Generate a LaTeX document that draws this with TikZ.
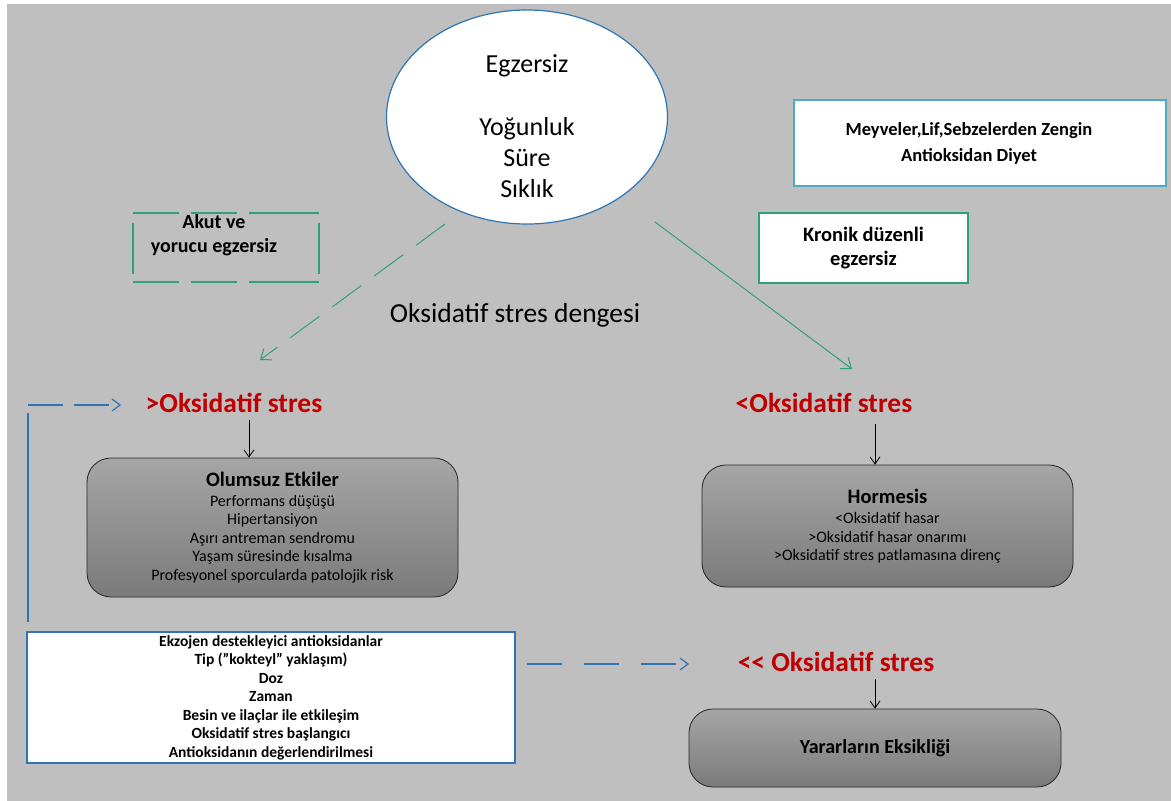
\documentclass[tikz,border=0pt]{standalone}
\usepackage{fontspec}
\setmainfont{Carlito}
\usetikzlibrary{arrows.meta,shapes.geometric}
\definecolor{bg}{HTML}{BFBFBF}
\definecolor{oxred}{HTML}{C00000}
\definecolor{grn}{HTML}{2EA07E}
\definecolor{blu}{HTML}{2E75B6}
\definecolor{cyanb}{HTML}{4BACC6}
\tikzset{
  x=1pt,y=-1pt,
  graybox/.style={draw=black!85,line width=0.8pt,rounded corners=24pt,top color=black!35,bottom color=black!52,shading angle=0,align=center,inner sep=0pt},
  whitebox/.style={fill=white,line width=1.3pt,align=center,inner sep=0pt},
  redlbl/.style={text=oxred,font=\fontsize{27.5}{30}\selectfont\bfseries},
  blkarrow/.style={-{Straight Barb[length=7pt,width=10pt]},line width=0.8pt},
  grnarrow/.style={draw=grn,line width=1pt,-{Straight Barb[length=9pt,width=14pt]}},
  bluarrow/.style={draw=blu,line width=1.2pt,-{Straight Barb[length=8pt,width=12pt]}},
  akutline/.style={draw=grn,line width=1.1pt},
}
\begin{document}
\begin{tikzpicture}
\useasboundingbox (0,0) rectangle (1171,801);
\fill[bg] (7,4) rectangle (1171,801);

% ellipse
\node[ellipse,draw=blu,line width=1.2pt,fill=white,minimum width=281pt,minimum height=214pt,inner sep=0pt] (ell) at (527,117) {};
\node[font=\fontsize{26}{31}\selectfont] (e1) at (527,66) {Egzersiz};
\node[font=\fontsize{26}{31}\selectfont,align=center,anchor=north] (e2) at (527,114) {Yoğunluk\\Süre\\Sıklık};

% Akut box (dashed sides)
\foreach \a/\b in {133/179,191/237,249/319}{
  \draw[akutline] (\a,213) -- (\b,213);
  \draw[akutline] (\a,282) -- (\b,282);
}
\draw[akutline] (133,223) -- (133,274);
\draw[akutline] (319,223) -- (319,274);
\node[font=\fontsize{20}{24}\selectfont\bfseries,align=center] (akut) at (214,235) {Akut ve\\yorucu egzersiz};

% Meyveler box
\node[whitebox,draw=cyanb,minimum width=372pt,minimum height=86pt] (mey) at (980,143) {};
\node[font=\fontsize{18.5}{26}\selectfont\bfseries,align=center] (meyt) at (969,143) {Meyveler,Lif,Sebzelerden Zengin\\Antioksidan Diyet};

% Kronik box
\node[whitebox,draw=grn,minimum width=209pt,minimum height=70pt,font=\fontsize{20.5}{24}\selectfont\bfseries] (kro) at (863.5,248) {Kronik düzenli\\egzersiz};

% balance label
\node[font=\fontsize{27.5}{30}\selectfont] (denge) at (515,315) {Oksidatif stres dengesi};

% red labels
\node[redlbl] (ox1) at (234,403) {>Oksidatif stres};
\node[redlbl] (ox2) at (824,403) {<Oksidatif stres};
\node[redlbl] (ox3) at (836,662) {<\kern0pt< Oksidatif stres};

% green arrows
\coordinate (g1s) at (445,224);
\coordinate (g1e) at (260,360);
\coordinate (g2s) at (655,222);
\coordinate (g2e) at (852,369);
\draw[grnarrow,dash pattern=on 36pt off 16pt] (g1s) -- (g1e);
\draw[grnarrow] (g2s) -- (g2e);

% gray boxes
\node[graybox,minimum width=371pt,minimum height=139pt,font=\fontsize{16}{18.5}\selectfont] (olb) at (272.5,527.5) {{\fontsize{20.5}{22}\selectfont\bfseries Olumsuz Etkiler}\\[1pt]Performans düşüşü\\Hipertansiyon\\Aşırı antreman sendromu\\Yaşam süresinde kısalma\\Profesyonel sporcularda patolojik risk};
\node[graybox,minimum width=371pt,minimum height=122pt,font=\fontsize{16}{18.5}\selectfont] (hor) at (887.5,526) {{\fontsize{20.5}{22}\selectfont\bfseries Hormesis}\\[2pt]<Oksidatif hasar\\>Oksidatif hasar onarımı\\>Oksidatif stres patlamasına direnç};
\node[graybox,minimum width=372pt,minimum height=78pt,font=\fontsize{20}{22}\selectfont\bfseries] (yar) at (875,748) {Yararların Eksikliği};

% black arrows
\coordinate (a1s) at (249,420);
\coordinate (a2s) at (875,424);
\coordinate (a3s) at (875,679);
\draw[blkarrow] (a1s) -- (a1s |- olb.north);
\draw[blkarrow] (a2s) -- (a2s |- hor.north);
\draw[blkarrow] (a3s) -- (a3s |- yar.north);

% Ekzojen box
\node[whitebox,draw=blu,line width=1.2pt,minimum width=488pt,minimum height=131pt,font=\fontsize{15.5}{18.5}\selectfont\bfseries] (ekz) at (271,697.5) {Ekzojen destekleyici antioksidanlar\\Tip (”kokteyl” yaklaşım)\\Doz\\Zaman\\Besin ve ilaçlar ile etkileşim\\Oksidatif stres başlangıcı\\Antioksidanın değerlendirilmesi};

% blue dashed arrows
\coordinate (c1) at (28,622);
\coordinate (c0) at (28,413);
\coordinate (c2) at (28,405);
\coordinate (c3) at (121,405);
\draw[blu,line width=1.2pt] (c1) -- (c0);
\draw[bluarrow,dash pattern=on 35pt off 11pt] (c2) -- (c3);
\coordinate (d1) at (527,664);
\coordinate (d2) at (689,664);
\draw[bluarrow,dash pattern=on 35pt off 22pt] (d1) -- (d2);
\end{tikzpicture}
\end{document}
